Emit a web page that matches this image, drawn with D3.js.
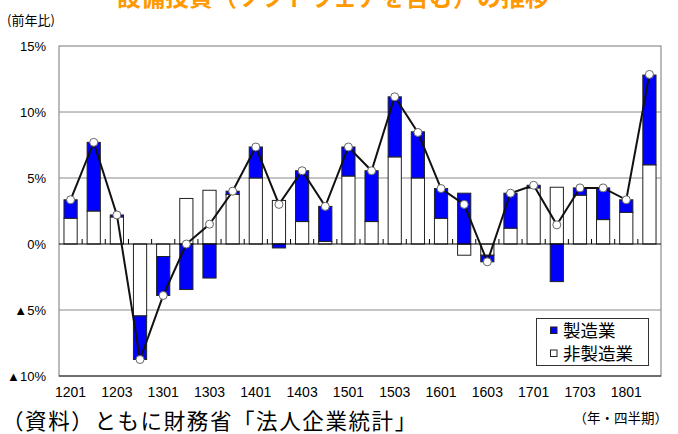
<!DOCTYPE html>
<html>
<head>
<meta charset="utf-8">
<script src="https://cdn.jsdelivr.net/npm/d3@7"></script>
<style>
  body { margin: 0; background: #fff; }
  svg { display: block; }
</style>
</head>
<body>
<svg id="chart"></svg>
<script>
// quarters 2012Q1 .. 2018Q2
const quarters = ["1201","1202","1203","1204","1301","1302","1303","1304",
                  "1401","1402","1403","1404","1501","1502","1503","1504",
                  "1601","1602","1603","1604","1701","1702","1703","1704",
                  "1801","1802"];
// contribution of manufacturing (blue)
const mfg = [1.4, 5.2, 0.15, -3.3, -2.95, -3.45, -2.58, 0.25, 2.35, -0.3, 3.85, 2.65, 2.2,
             3.85, 4.55, 3.5, 2.25, 3.85, -0.5, 2.65, 0.2, -2.85, 0.55, 2.4, 0.95, 6.8];
// contribution of non-manufacturing (white)
const nonMfg = [1.95, 2.5, 2.05, -5.45, -0.95, 3.45, 4.07, 3.75, 5.0, 3.3, 1.7, 0.2, 5.15,
                1.7, 6.6, 5.0, 1.95, -0.85, -0.85, 1.2, 4.25, 4.3, 3.7, 1.85, 2.4, 6.0];
// year-on-year total (line)
const total = [3.35, 7.7, 2.2, -8.75, -3.9, 0.0, 1.5, 4.0, 7.35, 3.0, 5.55, 2.85, 7.35,
               5.55, 11.15, 8.45, 4.2, 3.0, -1.35, 3.85, 4.45, 1.45, 4.25, 4.25, 3.35, 12.85];
const yTicks = [-10, -5, 0, 5, 10, 15];
const yTickLabels = ["▲10%", "▲5%", "0%", "5%", "10%", "15%"];

const width = 678, height = 434;
const marginLeft = 59, marginRight = 17, marginTop = 46, marginBottom = 58;

const svg = d3.select("#chart")
  .attr("width", width)
  .attr("height", height)
  .attr("viewBox", [0, 0, width, height]);

const xScale = d3.scaleBand()
  .domain(quarters)
  .range([marginLeft, width - marginRight])
  .paddingInner(0.43)
  .paddingOuter(0.215);
const step = xScale.step();

const yScale = d3.scaleLinear()
  .domain([-10, 15])
  .range([height - marginBottom, marginTop]);

const numFont = "'Liberation Sans Narrow', 'Liberation Sans', Arial, sans-serif";
const jpFont = "'Noto Sans CJK JP', sans-serif";

// title (cut off at the top, as in the source)
svg.append("text")
  .attr("x", 333)
  .attr("y", 6)
  .attr("text-anchor", "middle")
  .attr("fill", "#FF9900")
  .style("font-family", jpFont)
  .style("font-weight", "bold")
  .style("font-size", "24px")
  .text("設備投資（ソフトウェアを含む）の推移");

// plot frame
svg.append("rect")
  .attr("x", marginLeft)
  .attr("y", marginTop)
  .attr("width", width - marginLeft - marginRight)
  .attr("height", height - marginTop - marginBottom)
  .attr("fill", "none")
  .attr("stroke", "#777");

// gridlines
svg.append("g")
  .selectAll("line")
  .data([-5, 5, 10])
  .join("line")
    .attr("x1", marginLeft)
    .attr("x2", width - marginRight)
    .attr("y1", d => yScale(d))
    .attr("y2", d => yScale(d))
    .attr("stroke", "#8a8a8a");

// y axis labels
const yAxis = d3.axisLeft(yScale)
  .tickValues(yTicks)
  .tickSize(0)
  .tickPadding(13)
  .tickFormat((d, i) => yTickLabels[i]);

svg.append("g")
  .attr("transform", `translate(${marginLeft},0)`)
  .call(yAxis)
  .call(g => g.select(".domain").remove())
  .call(g => g.selectAll("text")
    .attr("fill", "#000")
    .style("font-family", numFont)
    .style("font-size", "13px"));

// stacked bars
const stacks = quarters.map((q, i) => {
  let pos = 0, neg = 0;
  const parts = [];
  [["non", nonMfg[i]], ["mfg", mfg[i]]].forEach(([k, v]) => {
    if (v >= 0) { parts.push({ k, y0: pos, y1: pos + v }); pos += v; }
    else { parts.push({ k, y0: neg, y1: neg + v }); neg += v; }
  });
  return { q, parts };
});

const bar = svg.append("g")
  .selectAll("g")
  .data(stacks)
  .join("g")
    .attr("transform", d => `translate(${xScale(d.q)},0)`);

bar.selectAll("rect")
  .data(d => d.parts)
  .join("rect")
    .attr("x", 0)
    .attr("width", xScale.bandwidth())
    .attr("y", p => yScale(Math.max(p.y0, p.y1)))
    .attr("height", p => Math.abs(yScale(p.y0) - yScale(p.y1)))
    .attr("fill", p => p.k === "mfg" ? "#0000FF" : "#fff")
    .attr("stroke", "#222")
    .attr("stroke-width", 1);

// zero line and category tick marks
svg.append("line")
  .attr("x1", marginLeft)
  .attr("x2", width - marginRight)
  .attr("y1", yScale(0))
  .attr("y2", yScale(0))
  .attr("stroke", "#000")
  .attr("stroke-width", 1.2);

svg.append("g")
  .selectAll("line")
  .data(quarters.slice(1))
  .join("line")
    .attr("x1", q => xScale(q) + xScale.bandwidth() / 2 - step / 2)
    .attr("x2", q => xScale(q) + xScale.bandwidth() / 2 - step / 2)
    .attr("y1", yScale(0))
    .attr("y2", yScale(0) - 5)
    .attr("stroke", "#000");

// bottom frame line
svg.append("line")
  .attr("x1", marginLeft)
  .attr("x2", width - marginRight)
  .attr("y1", yScale(-10))
  .attr("y2", yScale(-10))
  .attr("stroke", "#222");

// x axis labels every other quarter
const xAxis = d3.axisBottom(xScale)
  .tickValues(quarters.filter((q, i) => i % 2 === 0))
  .tickSize(0)
  .tickPadding(11);

svg.append("g")
  .attr("transform", `translate(0,${yScale(-10)})`)
  .call(xAxis)
  .call(g => g.select(".domain").remove())
  .call(g => g.selectAll("text")
    .attr("fill", "#000")
    .style("font-family", numFont)
    .style("font-size", "14px"));

// total line
const line = d3.line()
  .x((d, i) => xScale(quarters[i]) + xScale.bandwidth() / 2)
  .y(d => yScale(d));

svg.append("path")
  .datum(total)
  .attr("d", line)
  .attr("fill", "none")
  .attr("stroke", "#111")
  .attr("stroke-width", 2);

svg.append("g")
  .selectAll("circle")
  .data(total)
  .join("circle")
    .attr("cx", (d, i) => xScale(quarters[i]) + xScale.bandwidth() / 2)
    .attr("cy", d => yScale(d))
    .attr("r", 4)
    .attr("fill", "#fff")
    .attr("stroke", "#666")
    .attr("stroke-width", 1);

// legend
const legend = svg.append("g");
legend.append("rect")
  .attr("x", 536.5)
  .attr("y", 318.5)
  .attr("width", 112)
  .attr("height", 47)
  .attr("fill", "#fff")
  .attr("stroke", "#333");

const legendItems = [
  { label: "製造業", fill: "#0000FF" },
  { label: "非製造業", fill: "#fff" }
];
const li = legend.selectAll("g.item")
  .data(legendItems)
  .join("g")
    .attr("class", "item")
    .attr("transform", (d, i) => `translate(550,${330 + i * 23})`);

li.append("rect")
  .attr("x", 0.5)
  .attr("y", -3)
  .attr("width", 6.5)
  .attr("height", 6.5)
  .attr("fill", d => d.fill)
  .attr("stroke", "#222");

li.append("text")
  .attr("x", 13)
  .attr("y", 7)
  .attr("fill", "#000")
  .style("font-family", jpFont)
  .style("font-size", "17.5px")
  .text(d => d.label);

// unit labels and source
svg.append("text")
  .attr("x", 7)
  .attr("y", 25)
  .attr("fill", "#000")
  .style("font-family", jpFont)
  .style("font-size", "13px")
  .text("(前年比)");

svg.append("text")
  .attr("x", 668)
  .attr("y", 423)
  .attr("text-anchor", "end")
  .attr("fill", "#000")
  .style("font-family", jpFont)
  .style("font-size", "13.5px")
  .text("（年・四半期）");

svg.append("text")
  .attr("x", 2)
  .attr("y", 429)
  .attr("fill", "#000")
  .style("font-family", jpFont)
  .style("font-size", "21.5px")
  .style("letter-spacing", "1.6px")
  .text("（資料）ともに財務省「法人企業統計」");
</script>
</body>
</html>
